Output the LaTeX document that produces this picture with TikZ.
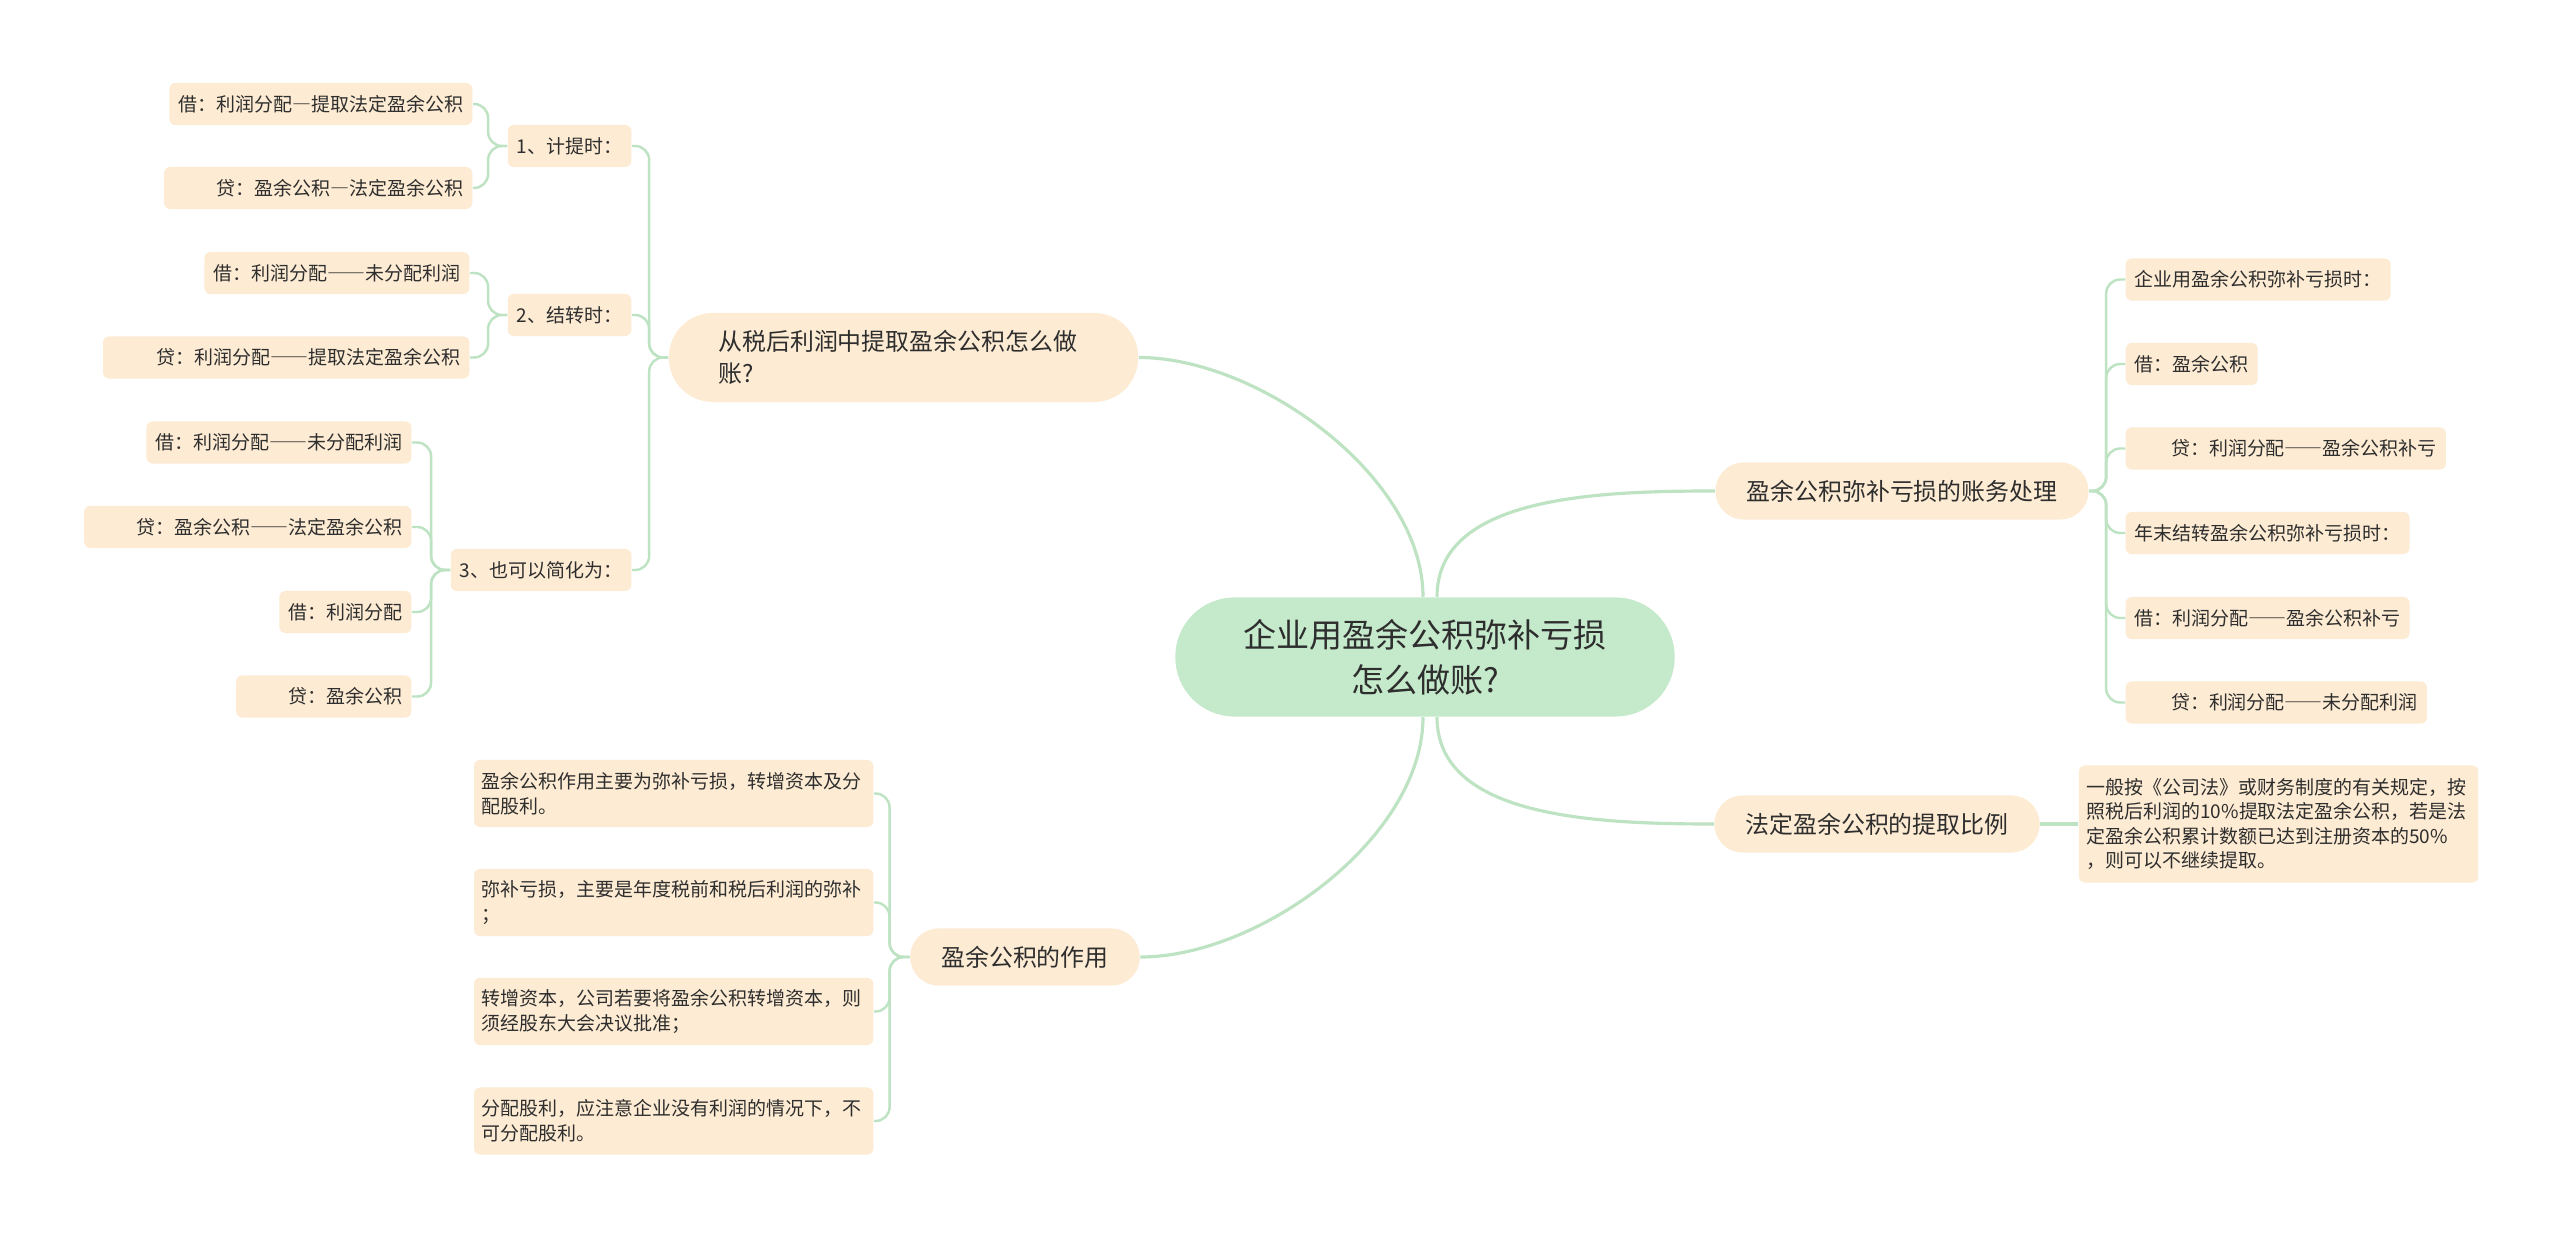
\documentclass[tikz,border=0pt]{standalone}
\usepackage{fontspec}
\usetikzlibrary{positioning}
\newfontfamily\cjk{Noto Sans CJK SC}
\newfontfamily\cjkwide[RawFeature=+fwid]{Noto Sans CJK SC}
\newcommand\zdash[1]{{\cjkwide #1}}
\definecolor{ink}{HTML}{2E2E2E}
\definecolor{rootgreen}{HTML}{C5EACB}
\definecolor{peach}{HTML}{FDEBD3}
\definecolor{twig}{HTML}{BEE3C3}
\tikzset{topic/.style={fill=rootgreen,rounded corners=0.59cm,align=center,text=ink,font=\cjk\fontsize{9.4pt}{12.8pt}\selectfont,minimum width=4.99cm,minimum height=1.19cm},branch/.style={fill=peach,rounded corners=0.28cm,text=ink,font=\cjk\fontsize{6.8pt}{9.3pt}\selectfont,inner xsep=0.31cm,minimum height=0.57cm},leaf/.style={fill=peach,rounded corners=0.06cm,text=ink,font=\cjk\fontsize{5.4pt}{7pt}\selectfont,inner xsep=0.09cm,minimum height=0.42cm},note/.style={leaf,text width=3.84cm,inner xsep=0.075cm,align=left},link/.style={draw=twig,line width=0.9pt},twiglink/.style={draw=twig,line width=0.7pt,rounded corners=0.14cm}}

\begin{document}
\begin{tikzpicture}[x=0.01cm,y=-0.01cm]
\fill[white] (0,0) rectangle (2560,1237);
\useasboundingbox (0,0) rectangle (2560,1237);
\node[topic] (root) at (1425,657) {企业用盈余公积弥补亏损\\怎么做账?};
\node[branch,text width=3.7cm,align=left,inner xsep=0.495cm,minimum height=0.89cm,rounded corners=0.44cm] (tiqu) at (903.5,357.5) {从税后利润中提取盈余公积怎么做\\账?};
\node[branch] (mibu) at (1902,491) {盈余公积弥补亏损的账务处理};
\node[branch] (bili) at (1877,824) {法定盈余公积的提取比例};
\node[branch] (zuoyong) at (1025,957) {盈余公积的作用};

\node[leaf,anchor=east] (jiti) at (632,146) {1、计提时：};
\node[leaf,anchor=east] (jiezhuan) at (632,315) {2、结转时：};
\node[leaf,anchor=east] (jianhua) at (632,570) {3、也可以简化为：};
\node[leaf,anchor=east] (jt1) at (473,104) {借：利润分配\zdash{—}提取法定盈余公积};
\node[leaf,anchor=east,text width=2.90cm,align=right] (jt2) at (473,188) {贷：盈余公积\zdash{—}法定盈余公积};
\node[leaf,anchor=east] (jz1) at (470,273) {借：利润分配\zdash{——}未分配利润};
\node[leaf,anchor=east,text width=3.48cm,align=right] (jz2) at (470,357.5) {贷：利润分配\zdash{——}提取法定盈余公积};
\node[leaf,anchor=east] (jh1) at (412,442.5) {借：利润分配\zdash{——}未分配利润};
\node[leaf,anchor=east,text width=3.09cm,align=right] (jh2) at (412,527) {贷：盈余公积\zdash{——}法定盈余公积};
\node[leaf,anchor=east] (jh3) at (412,612) {借：利润分配};
\node[leaf,anchor=east,text width=1.57cm,align=right] (jh4) at (412,696.5) {贷：盈余公积};

\node[leaf,anchor=west] (mb1) at (2125,279.5) {企业用盈余公积弥补亏损时：};
\node[leaf,anchor=west] (mb2) at (2125,364) {借：盈余公积};
\node[leaf,anchor=west,text width=3.02cm,align=right] (mb3) at (2125,448.5) {贷：利润分配\zdash{——}盈余公积补亏};
\node[leaf,anchor=west] (mb4) at (2125,533) {年末结转盈余公积弥补亏损时：};
\node[leaf,anchor=west] (mb5) at (2125,618) {借：利润分配\zdash{——}盈余公积补亏};
\node[leaf,anchor=west,text width=2.83cm,align=right] (mb6) at (2125,702.5) {贷：利润分配\zdash{——}未分配利润};

\node[note,minimum height=1.17cm,right=0.38cm of bili] (bl1) {一般按《公司法》或财务制度的有关规定，按\\照税后利润的10\%提取法定盈余公积，若是法\\定盈余公积累计数额已达到注册资本的50\%\\，则可以不继续提取。};

\node[note,anchor=east,minimum height=0.67cm] (zy1) at (874,793.5) {盈余公积作用主要为弥补亏损，转增资本及分\\配股利。};
\node[note,anchor=east,minimum height=0.67cm] (zy2) at (874,902.5) {弥补亏损，主要是年度税前和税后利润的弥补\\；};
\node[note,anchor=east,minimum height=0.67cm] (zy3) at (874,1011.5) {转增资本，公司若要将盈余公积转增资本，则\\须经股东大会决议批准；};
\node[note,anchor=east,minimum height=0.67cm] (zy4) at (874,1121) {分配股利，应注意企业没有利润的情况下，不\\可分配股利。};

\draw[link] ([xshift=-0.02cm]root.north) .. controls +(0,-120) and +(120,0) .. (tiqu.east);
\draw[link] ([xshift=0.12cm]root.north) .. controls +(0,-100) and +(-120,0) .. (mibu.west);
\draw[link] ([xshift=-0.02cm]root.south) .. controls +(0,120) and +(120,0) .. (zuoyong.east);
\draw[link] ([xshift=0.12cm]root.south) .. controls +(0,100) and +(-120,0) .. (bili.west);
\draw[link] (bili.east) -- (bl1.west);

\foreach \c in {jiti,jiezhuan,jianhua} \draw[twiglink] (tiqu.west) -- ++(-19,0) |- (\c.east);
\foreach \c in {jt1,jt2} \draw[twiglink] (jiti.west) -- ++(-19,0) |- (\c.east);
\foreach \c in {jz1,jz2} \draw[twiglink] (jiezhuan.west) -- ++(-19,0) |- (\c.east);
\foreach \c in {jh1,jh2,jh3,jh4} \draw[twiglink] (jianhua.west) -- ++(-19,0) |- (\c.east);
\foreach \c in {mb1,mb2,mb3,mb4,mb5,mb6} \draw[twiglink] (mibu.east) -- ++(17,0) |- (\c.west);
\foreach \c in {zy1,zy2,zy3,zy4} \draw[twiglink] (zuoyong.west) -- ++(-20,0) |- (\c.east);
\end{tikzpicture}
\end{document}
